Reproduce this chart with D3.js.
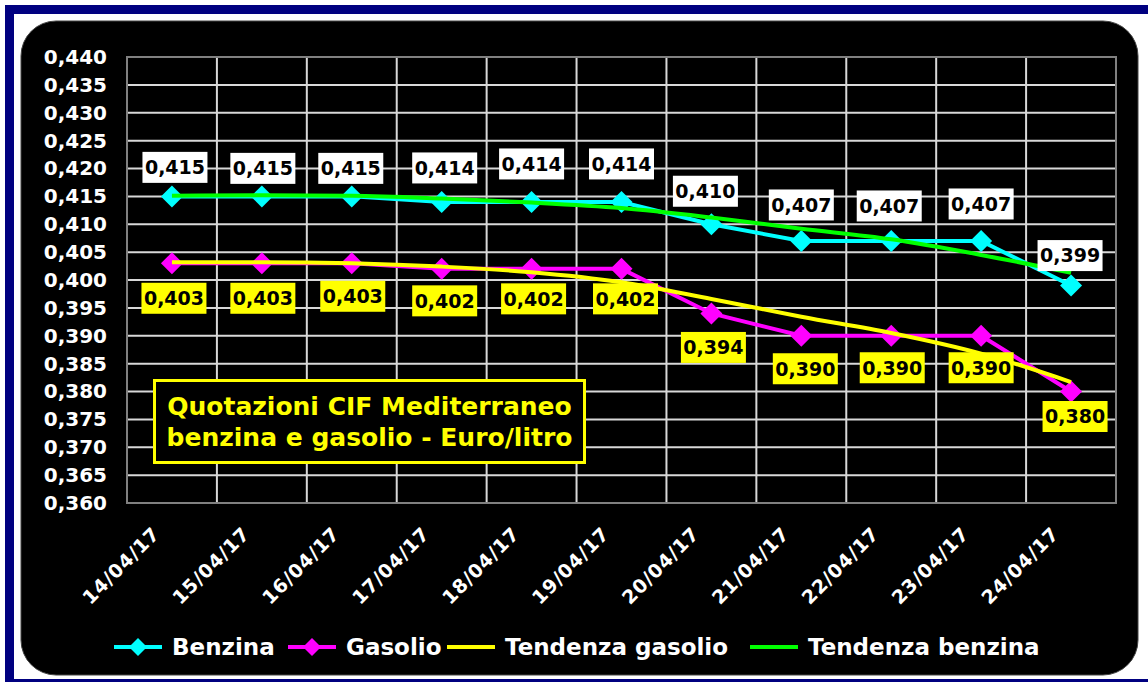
<!DOCTYPE html>
<html>
<head>
<meta charset="utf-8">
<script src="https://cdn.jsdelivr.net/npm/d3@7"></script>
<style>
  body { margin: 0; background: #fff; }
  svg { display: block; font-family: "DejaVu Sans", Verdana, sans-serif; font-weight: bold; }
</style>
</head>
<body>
<svg id="chart" width="1148" height="682"></svg>
<script>
// values
const dates = ["14/04/17", "15/04/17", "16/04/17", "17/04/17", "18/04/17", "19/04/17",
               "20/04/17", "21/04/17", "22/04/17", "23/04/17", "24/04/17"];
const benzina = [0.415, 0.415, 0.415, 0.414, 0.414, 0.414, 0.410, 0.407, 0.407, 0.407, 0.399];
const gasolio = [0.403, 0.403, 0.403, 0.402, 0.402, 0.402, 0.394, 0.390, 0.390, 0.390, 0.380];
const tendenzaGasolio = [0.4032, 0.4032, 0.4030, 0.4024, 0.4014, 0.3996, 0.3966, 0.3934, 0.3905, 0.3868, 0.3817];
const tendenzaBenzina = [0.4151, 0.4152, 0.4151, 0.4146, 0.4139, 0.4129, 0.4112, 0.4092, 0.4073, 0.4045, 0.4013];
const yTickValues = [0.360, 0.365, 0.370, 0.375, 0.380, 0.385, 0.390, 0.395, 0.400,
                     0.405, 0.410, 0.415, 0.420, 0.425, 0.430, 0.435, 0.440];
const titleLines = ["Quotazioni CIF Mediterraneo", "benzina e gasolio - Euro/litro"];

// hand placed data label offsets (as in the original sheet)
const labelDxB = [3, 1, -1, 3, 0, 0, -6, 0, -2, 0, -1];
const labelDyB = [-29, -28, -28, -34, -38, -38, -33, -36, -35, -37, -30];
const labelDxG = [2, 1, 1, 3, 2, 4, 2, 4, 1, 0, 4];
const labelDyG = [35, 35, 33, 32, 30, 30, 34, 33, 32, 32, 25];

const svg = d3.select("#chart");
const plotLeft = 127, plotRight = 1116, plotTop = 57, plotBottom = 503;

// frame
svg.append("rect").attr("x", 5).attr("y", 5).attr("width", 1143).attr("height", 677).attr("fill", "#000080");
svg.append("rect").attr("x", 14).attr("y", 14).attr("width", 1134).attr("height", 665).attr("fill", "#fff");
svg.append("rect").attr("x", 21).attr("y", 21).attr("width", 1117).attr("height", 654)
    .attr("rx", 35).attr("fill", "#000").attr("stroke", "#444").attr("stroke-width", 1);

const x = d3.scaleBand().domain(dates).range([plotLeft, plotRight]);
const y = d3.scaleLinear().domain([0.360, 0.440]).range([plotBottom, plotTop]);
const cx = d => x(d) + x.bandwidth() / 2;
const fmt = v => d3.format(".3f")(v).replace(".", ",");

// grid
svg.append("g").selectAll("line")
    .data(yTickValues)
    .enter().append("line")
    .attr("x1", plotLeft).attr("x2", plotRight)
    .attr("y1", d => y(d)).attr("y2", d => y(d))
    .attr("stroke", "#d8d8d8").attr("stroke-width", 2);

svg.append("g").selectAll("line")
    .data(dates.slice(1))
    .enter().append("line")
    .attr("x1", d => x(d)).attr("x2", d => x(d))
    .attr("y1", plotTop).attr("y2", plotBottom)
    .attr("stroke", "#d8d8d8").attr("stroke-width", 2);

svg.append("rect")
    .attr("x", plotLeft).attr("y", plotTop).attr("width", plotRight - plotLeft).attr("height", plotBottom - plotTop)
    .attr("fill", "none").attr("stroke", "#808080").attr("stroke-width", 2);

// y axis
const yAxis = svg.append("g")
    .attr("transform", "translate(" + plotLeft + ",0)")
    .call(d3.axisLeft(y).tickValues(yTickValues).tickFormat(fmt).tickSize(0).tickPadding(20));
yAxis.select(".domain").remove();
yAxis.selectAll("text")
    .attr("fill", "#fff").attr("font-size", 20).attr("font-family", "DejaVu Sans").attr("font-weight", "bold");

// x axis labels
svg.append("g").selectAll("text")
    .data(dates)
    .enter().append("text")
    .attr("transform", d => "translate(" + (cx(d) - 11) + ",535) rotate(-45)")
    .attr("text-anchor", "end")
    .attr("fill", "#fff")
    .attr("font-size", 19)
    .attr("letter-spacing", 0.8)
    .text(d => d);

// title box
const tb = svg.append("g");
tb.append("rect")
    .attr("x", 154.5).attr("y", 380.5).attr("width", 430).attr("height", 82)
    .attr("fill", "#000").attr("stroke", "#ffff00").attr("stroke-width", 3);
tb.selectAll("text")
    .data(titleLines)
    .enter().append("text")
    .attr("x", 369.5)
    .attr("y", (d, i) => 415 + i * 31)
    .attr("text-anchor", "middle")
    .attr("fill", "#ffff00")
    .attr("font-size", 25)
    .text(d => d);

const line = d3.line()
    .x((d, i) => cx(dates[i]))
    .y(d => y(d));
const smooth = d3.line()
    .x((d, i) => cx(dates[i]))
    .y(d => y(d))
    .curve(d3.curveMonotoneX);

const diamond = (s) => "M0," + (-s) + "L" + s + ",0L0," + s + "L" + (-s) + ",0Z";

const series = [
    { values: benzina, color: "#00ffff" },
    { values: gasolio, color: "#ff00ff" }
];

series.forEach(s => {
    svg.append("path")
        .attr("d", line(s.values))
        .attr("fill", "none").attr("stroke", s.color).attr("stroke-width", 4);
    svg.append("g").selectAll("path")
        .data(s.values)
        .enter().append("path")
        .attr("transform", (d, i) => "translate(" + cx(dates[i]) + "," + y(d) + ")")
        .attr("d", diamond(11))
        .attr("fill", s.color);
});

svg.append("path")
    .attr("d", smooth(tendenzaGasolio))
    .attr("fill", "none").attr("stroke", "#ffff00").attr("stroke-width", 4);
svg.append("path")
    .attr("d", smooth(tendenzaBenzina))
    .attr("fill", "none").attr("stroke", "#00ff00").attr("stroke-width", 4);

// data labels
const labels = function(values, dxs, dys, bg) {
    const g = svg.append("g").selectAll("g")
        .data(values)
        .enter().append("g")
        .attr("transform", (d, i) => "translate(" + (cx(dates[i]) + dxs[i]) + "," + (y(d) + dys[i]) + ")");
    g.append("rect")
        .attr("x", -32.5).attr("y", -15.5).attr("width", 65).attr("height", 31)
        .attr("fill", bg);
    g.append("text")
        .attr("text-anchor", "middle")
        .attr("dy", "0.36em")
        .attr("fill", "#000")
        .attr("font-size", 19)
        .text(d => fmt(d));
};
labels(benzina, labelDxB, labelDyB, "#fff");
labels(gasolio, labelDxG, labelDyG, "#ffff00");

// legend
const legendItems = [
    { name: "Benzina", color: "#00ffff", marker: true, x: 114 },
    { name: "Gasolio", color: "#ff00ff", marker: true, x: 288 },
    { name: "Tendenza gasolio", color: "#ffff00", marker: false, x: 447 },
    { name: "Tendenza benzina", color: "#00ff00", marker: false, x: 750 }
];
const lg = svg.append("g").selectAll("g")
    .data(legendItems)
    .enter().append("g")
    .attr("transform", d => "translate(" + d.x + ",647)");
lg.append("line")
    .attr("x1", 0).attr("x2", 48)
    .attr("stroke", d => d.color).attr("stroke-width", 4);
lg.filter(d => d.marker).append("path")
    .attr("transform", "translate(24,0)")
    .attr("d", diamond(9))
    .attr("fill", d => d.color);
lg.append("text")
    .attr("x", 58)
    .attr("dy", "0.36em")
    .attr("fill", "#fff")
    .attr("font-size", 23)
    .text(d => d.name);
</script>
</body>
</html>
